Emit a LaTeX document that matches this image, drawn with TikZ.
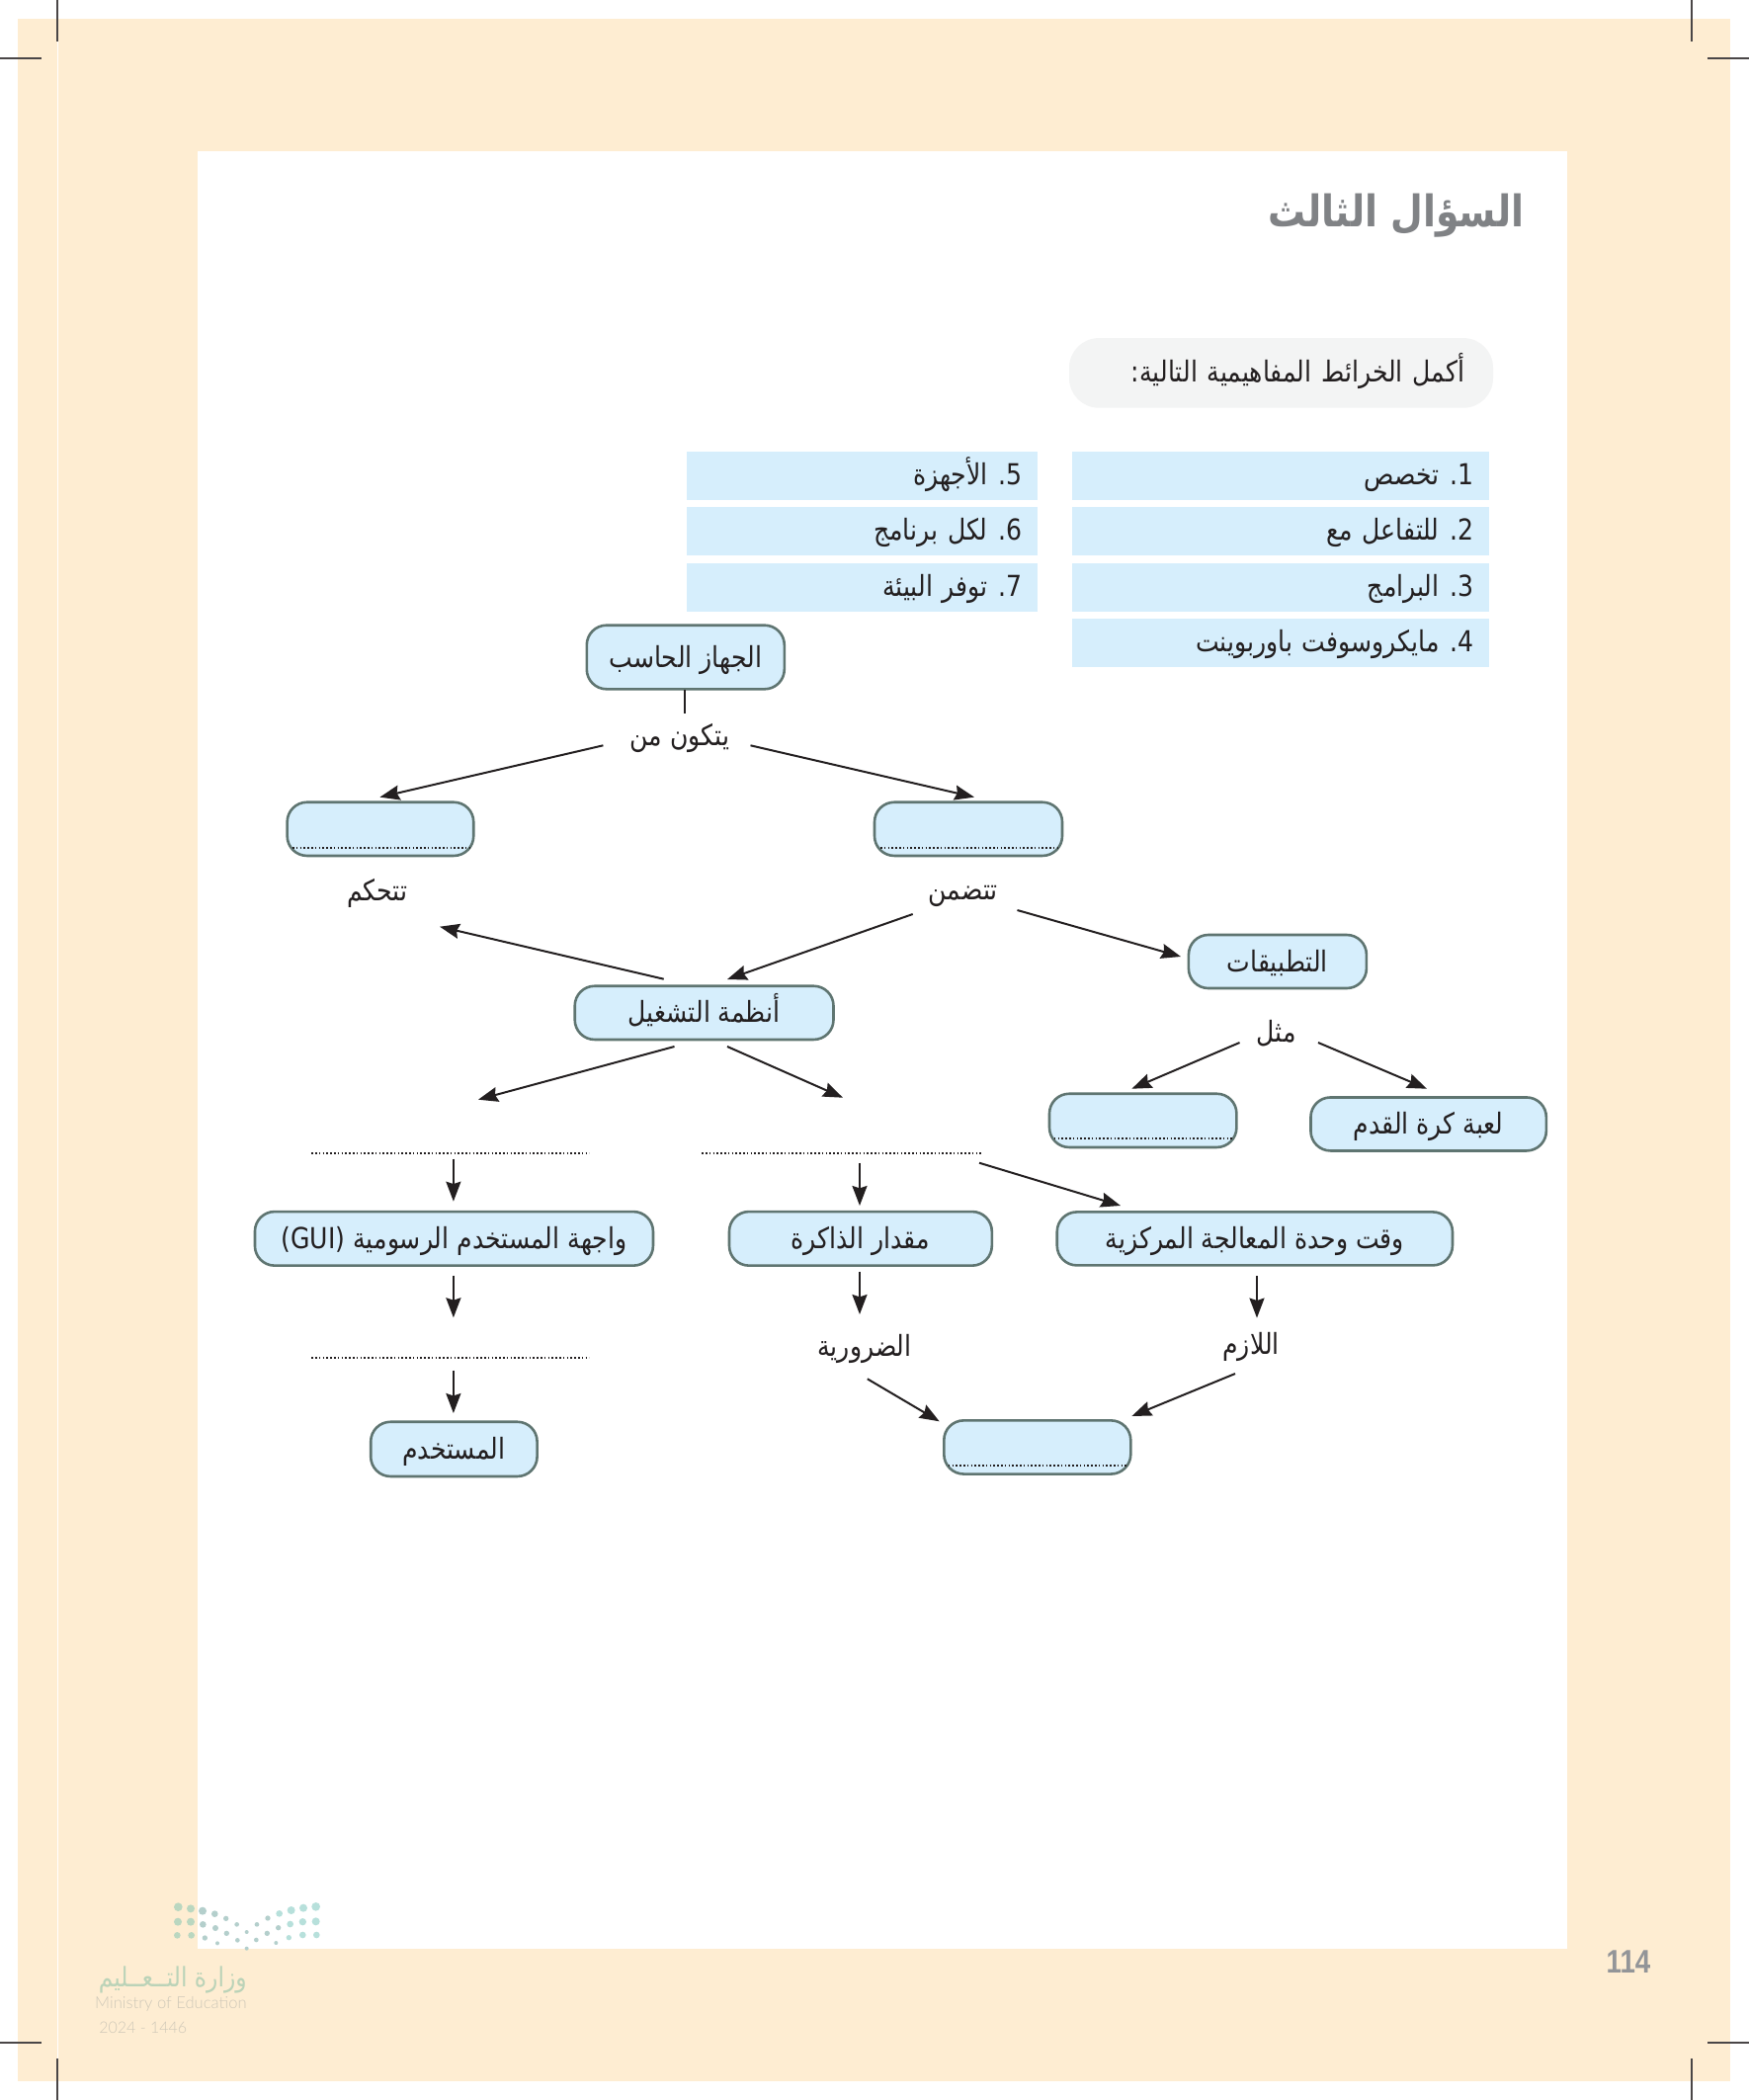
\documentclass[tikz,border=0pt]{standalone}
\usepackage{fontspec}
\usetikzlibrary{arrows.meta}
\TeXXeTstate=1
\newfontfamily\arabicfont[Script=Arabic,FakeStretch=0.86]{DejaVu Sans}
\newfontfamily\numfont[FakeStretch=0.84]{Liberation Sans}
\newfontfamily\logofont{Lato Light}
\newcommand{\ar}[1]{{\arabicfont\beginR #1\endR}}
\newcommand{\aru}[1]{\raisebox{1.5pt}{\ar{#1}}}
\newcommand{\numgap}{\hspace{.36em}}
\definecolor{cream}{HTML}{FEEDD2}
\definecolor{boxblue}{HTML}{D6EEFC}
\definecolor{boxedge}{HTML}{5F7571}
\definecolor{ink}{HTML}{231F20}
\definecolor{titlegray}{HTML}{808285}
\definecolor{numgray}{HTML}{939598}
\definecolor{pillgray}{HTML}{F3F4F4}
\definecolor{markgray}{HTML}{4A4647}
\definecolor{dotgreen}{HTML}{BAD7C0}
\definecolor{dotmid}{HTML}{B4CFCC}
\definecolor{dotteal}{HTML}{B7E0DB}
\definecolor{logogreen}{HTML}{BBD3B8}
\definecolor{logotan}{HTML}{CFC8B8}
\tikzset{
  bodytext/.style={font=\fontsize{14.6}{17}\selectfont,text=ink},
  conceptbox/.style={draw=boxedge,fill=boxblue,line width=1.3pt,rounded corners=10pt,inner sep=0pt,text height=12pt,text depth=2pt,bodytext},
  itembox/.style={fill=boxblue,inner ysep=0pt,inner xsep=8pt,minimum height=24.5pt,align=right,text height=12pt,text depth=3pt,bodytext},
  wordlabel/.style={inner sep=0pt,text height=11pt,text depth=2pt,bodytext},
  conn/.style={draw=ink,line width=1pt,-{Stealth[length=10pt,width=7.5pt,inset=1.2pt]}},
  plainconn/.style={draw=ink,line width=1pt},
  dotrule/.style={draw=ink,line width=1.15pt,dash pattern=on .8pt off 1.1pt},
  blankrule/.style={inner sep=0pt,minimum height=0pt},
  cropmark/.style={draw=markgray,line width=1pt},
}
\begin{document}
\begin{tikzpicture}[x=0.5pt,y=-0.5pt]
\useasboundingbox (0,0) rectangle (1770,2125);
\fill[white] (0,0) rectangle (1770,2125);
\fill[cream] (18,19) rectangle (1751,2106);
\fill[white] (200,153) rectangle (1586,1972);
\draw[white,line width=.6pt] (58.5,42) -- (58.5,2083);
% crop marks
\draw[cropmark] (58,0) -- (58,42);
\draw[cropmark] (0,59) -- (42,59);
\draw[cropmark] (1712,0) -- (1712,42);
\draw[cropmark] (1728,59) -- (1770,59);
\draw[cropmark] (58,2083) -- (58,2125);
\draw[cropmark] (0,2067) -- (42,2067);
\draw[cropmark] (1712,2083) -- (1712,2125);
\draw[cropmark] (1728,2067) -- (1770,2067);
% title and instruction
\node[anchor=east,inner sep=0pt,text=titlegray,font=\fontsize{22}{25}\selectfont\bfseries] (title) at (1543,218) {\ar{السؤال الثالث}};
\node[fill=pillgray,rounded corners=15pt,minimum height=35.3pt,inner ysep=0pt,inner xsep=14.5pt,text width=185.5pt,align=right,text height=11pt,text depth=2pt,bodytext] (pill) at (1296.5,377.4) {\ar{أكمل الخرائط المفاهيمية التالية:}};
% word bank
\node[itembox,text width=195pt] (i1) at (1296,481.5) {\ar{1.\numgap تخصص}};
\node[itembox,text width=195pt] (i2) at (1296,537.7) {\ar{2.\numgap للتفاعل مع}};
\node[itembox,text width=195pt] (i3) at (1296,594) {\ar{3.\numgap البرامج}};
\node[itembox,text width=195pt] (i4) at (1296,650.3) {\ar{4.\numgap مايكروسوفت باوربوينت}};
\node[itembox,text width=161.5pt] (i5) at (872.5,481.5) {\ar{5.\numgap الأجهزة}};
\node[itembox,text width=161.5pt] (i6) at (872.5,537.7) {\ar{6.\numgap لكل برنامج}};
\node[itembox,text width=161.5pt] (i7) at (872.5,594) {\ar{7.\numgap توفر البيئة}};
% concept boxes
\node[conceptbox,minimum width=100pt,minimum height=32.3pt] (comp) at (693.8,665) {\ar{الجهاز الحاسب}};
\node[conceptbox,minimum width=94.3pt,minimum height=27.1pt] (blankL) at (384.95,838.85) {};
\node[conceptbox,minimum width=95pt,minimum height=27.1pt] (blankR) at (980,838.85) {};
\node[conceptbox,minimum width=130.9pt,minimum height=27.1pt] (os) at (712.6,1024.85) {\ar{أنظمة التشغيل}};
\node[conceptbox,minimum width=90pt,minimum height=27pt] (apps) at (1292.9,973) {\ar{التطبيقات}};
\node[conceptbox,minimum width=94.7pt,minimum height=27.1pt] (blankE) at (1156.7,1133.85) {};
\node[conceptbox,minimum width=119.2pt,minimum height=27pt] (foot) at (1445.65,1137.45) {\ar{لعبة كرة القدم}};
\node[conceptbox,minimum width=200.1pt,minimum height=27pt] (cpu) at (1269.85,1253.4) {\ar{وقت وحدة المعالجة المركزية}};
\node[conceptbox,minimum width=132.9pt,minimum height=27.3pt] (mem) at (870.9,1253.35) {\ar{مقدار الذاكرة}};
\node[conceptbox,minimum width=201.5pt,minimum height=27.3pt] (gui) at (459.45,1253.35) {\ar{واجهة المستخدم الرسومية (\beginL GUI\endL)}};
\node[conceptbox,minimum width=84.2pt,minimum height=27.6pt] (user) at (459.4,1466.35) {\ar{المستخدم}};
\node[conceptbox,minimum width=94.5pt,minimum height=27.1pt] (res) at (1049.8,1464.45) {};
% word labels
\node[wordlabel] (tkon) at (688,748) {\aru{يتكون من}};
\node[wordlabel] (tah) at (381.7,905) {\aru{تتحكم}};
\node[wordlabel] (tad) at (974.7,904) {\aru{تتضمن}};
\node[wordlabel] (mithl) at (1291.6,1045) {\ar{مثل}};
\node[wordlabel] (lazim) at (1266,1361) {\ar{اللازم}};
\node[wordlabel] (darur) at (875,1363) {\ar{الضرورية}};
% blank answer rules
\node[blankrule,minimum width=140.2pt] (dl1) at (455.75,1167.3) {};
\node[blankrule,minimum width=141pt] (dl2) at (851.5,1167.3) {};
\node[blankrule,minimum width=140.2pt] (dl3) at (455.75,1374.3) {};
\draw[dotrule] (dl1.west) -- (dl1.east);
\draw[dotrule] (dl2.west) -- (dl2.east);
\draw[dotrule] (dl3.west) -- (dl3.east);
\draw[dotrule] ([shift={(-89,18.85)}]blankL.center) -- ([shift={(91.5,18.85)}]blankL.center);
\draw[dotrule] ([shift={(-89,18.85)}]blankR.center) -- ([shift={(91.5,18.85)}]blankR.center);
\draw[dotrule] ([shift={(-90,18)}]blankE.center) -- ([shift={(91,18)}]blankE.center);
\draw[dotrule] ([shift={(-90,18.5)}]res.center) -- ([shift={(91,18.5)}]res.center);
% connectors
\draw[plainconn] ([shift={(-0.4,33)}]comp.center) -- ([shift={(5.4,-26.3)}]tkon.center);
\draw[conn] ([shift={(-77.6,6.3)}]tkon.center) -- ([shift={(-0.5,-32.2)}]blankL.center);
\draw[conn] ([shift={(71.5,6.3)}]tkon.center) -- ([shift={(6,-32.2)}]blankR.center);
\draw[conn] ([shift={(-51,21)}]tad.center) -- ([shift={(23.4,-33.85)}]os.center);
\draw[conn] ([shift={(54.8,17)}]tad.center) -- ([shift={(-97.9,-5)}]apps.center);
\draw[conn] ([shift={(-40.9,-34.15)}]os.center) -- ([shift={(63.3,32.7)}]tah.center);
\draw[conn] ([shift={(-30.1,34.15)}]os.center) -- ([shift={(28.25,-54.6)}]dl1.center);
\draw[conn] ([shift={(23.4,34.15)}]os.center) -- ([shift={(1.5,-56.6)}]dl2.center);
\draw[conn] ([shift={(-37.1,10)}]mithl.center) -- ([shift={(-11.3,-32.15)}]blankE.center);
\draw[conn] ([shift={(42.4,10)}]mithl.center) -- ([shift={(-1.65,-35.75)}]foot.center);
\draw[conn] ([shift={(3.15,5.4)}]dl1.center) -- ([shift={(-0.55,-37.65)}]gui.center);
\draw[conn] ([shift={(-0.55,37.35)}]gui.center) -- ([shift={(3.15,-41)}]dl3.center);
\draw[conn] ([shift={(3.15,12.4)}]dl3.center) -- ([shift={(-0.5,-36.35)}]user.center);
\draw[conn] ([shift={(18.5,9.4)}]dl2.center) -- ([shift={(-0.9,-33.35)}]mem.center);
\draw[conn] ([shift={(139.5,9.4)}]dl2.center) -- ([shift={(-135.85,-33.4)}]cpu.center);
\draw[conn] ([shift={(-0.9,33.35)}]mem.center) -- ([shift={(-5,-33)}]darur.center);
\draw[conn] ([shift={(2.15,37.6)}]cpu.center) -- ([shift={(6,-27.4)}]lazim.center);
\draw[conn] ([shift={(2.8,32.3)}]darur.center) -- ([shift={(-99.1,-26.15)}]res.center);
\draw[conn] ([shift={(-16,29)}]lazim.center) -- ([shift={(95.6,-31.45)}]res.center);
% page number
\node[inner sep=0pt,text=numgray,font=\numfont\fontsize{16.5}{18}\selectfont\bfseries] (pagenum) at (1648,1985) {114};
% logo
\foreach \X/\Y/\R in {361/119/13,399/124/12,360/164/12,399/164/12,358/205/10,401/205/10}
  \fill[dotgreen] ({60+\X/3},{1890+\Y/3}) circle[radius=\R*0.1667pt];
\foreach \X/\Y/\R in {435/131/12,472/140/10,506/154/8,539/172/7,600/172/7,633/153/8,436/172/10,474/183/9,508/199/8,541/220/7,598/219/7,631/199/8,442/213/8,480/229/6,569/195/6,569/245/6,658/228/6,665/182/8}
  \fill[dotmid] ({60+\X/3},{1890+\Y/3}) circle[radius=\R*0.1667pt];
\foreach \X/\Y/\R in {668/139/10,704/129/12,741/122/12,779/118/13,701/171/10,739/164/11,779/163/12,697/212/8,739/204/10,781/204/10}
  \fill[dotteal] ({60+\X/3},{1890+\Y/3}) circle[radius=\R*0.1667pt];
\node[anchor=east,inner sep=0pt,text=logogreen,font=\fontsize{13.6}{15}\selectfont] (logoar) at (250,2003) {\ar{وزارة التــعــليم}};
\node[anchor=east,inner sep=0pt,text=logotan,font=\logofont\fontsize{8.3}{10}\selectfont] (logoen) at (250,2028) {Ministry of Education};
\node[anchor=west,inner sep=0pt,text=logotan,font=\logofont\fontsize{8}{10}\selectfont] (logoyr) at (100,2052) {2024 - 1446};
\end{tikzpicture}
\end{document}
